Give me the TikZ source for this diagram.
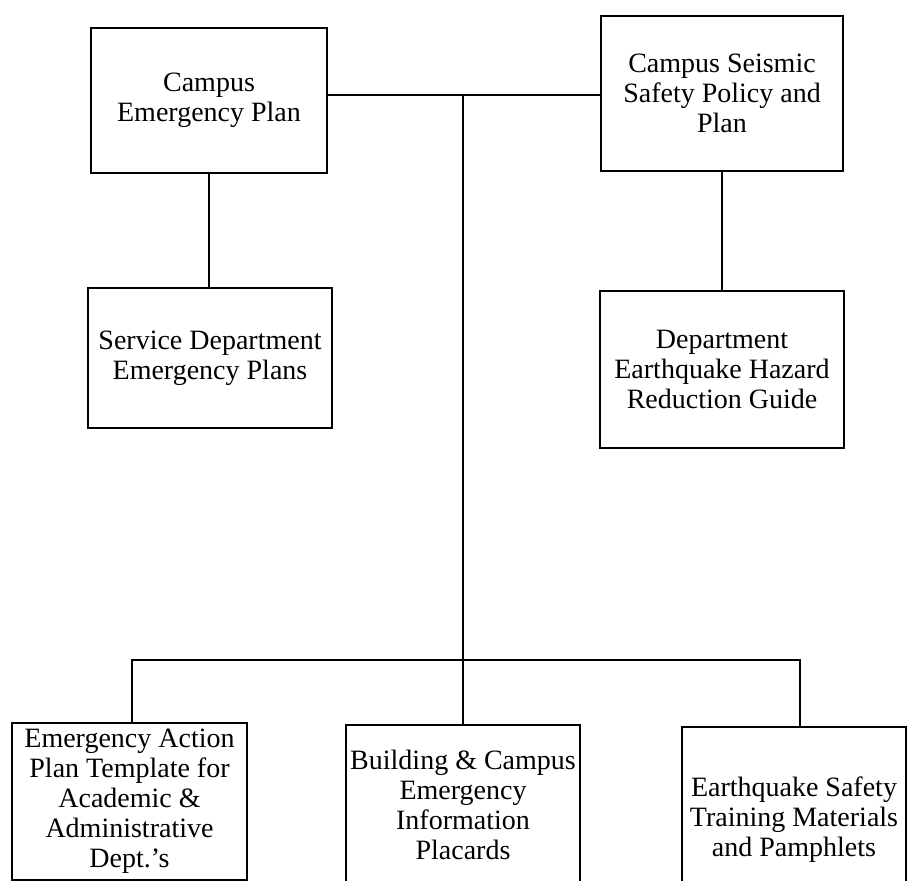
\documentclass[tikz,border=0pt]{standalone}
\usepackage{fontspec}
\setmainfont{Liberation Serif}
\usepackage{tikz}

\begin{document}
\begin{tikzpicture}[x=0.5pt, y=-0.5pt,
    box/.style={draw, line width=0.9pt, align=center, inner sep=1pt,
                font=\fontsize{14}{15}\selectfont},
    link/.style={line width=1.1pt}]
      \clip (0, 0) rectangle (908, 881);
      % top row
      \node[box, minimum width=118pt, minimum height=72.5pt] (cep)   at (209, 100.5) {Campus\\Emergency Plan};
      \node[box, minimum width=121pt, minimum height=77.5pt] (cssp)  at (722, 93.5)  {Campus Seismic\\Safety Policy and\\Plan};
      % second row
      \node[box, minimum width=122pt, minimum height=70pt]   (sdep)  at (210, 358)   {Service Department\\Emergency Plans};
      \node[box, minimum width=122pt, minimum height=78.5pt] (dehrg) at (722, 369.5) {Department\\Earthquake Hazard\\Reduction Guide};
      % bottom row, cut off by the page edge
      \node[box, minimum width=117.5pt, minimum height=78.5pt] (eap)  at (129.5, 801.5) {Emergency Action\\Plan Template for\\Academic \&\\Administrative\\Dept.'s};
      \node[box, minimum width=117pt, minimum height=80pt]     (bcei) at (463, 805)     {Building \& Campus\\Emergency\\Information\\Placards};
      \node[box, minimum width=112pt, minimum height=93pt]     (estm) at (794, 820)     {Earthquake Safety\\Training Materials\\and Pamphlets};
      % joints of the tree
      \coordinate (hub)   at (463, 95);
      \coordinate (ldrop) at (132, 660);
      \coordinate (rdrop) at (800, 660);
      \draw[link] (cep.east |- hub) -- (cssp.west |- hub);
      \draw[link] (hub) -- (bcei.north);
      \draw[link] (cep.south) -- (cep.south |- sdep.north);
      \draw[link] (cssp.south) -- (dehrg.north);
      \draw[link] (ldrop |- eap.north) -- (ldrop) -- (rdrop) -- (rdrop |- estm.north);
\end{tikzpicture}
\end{document}
